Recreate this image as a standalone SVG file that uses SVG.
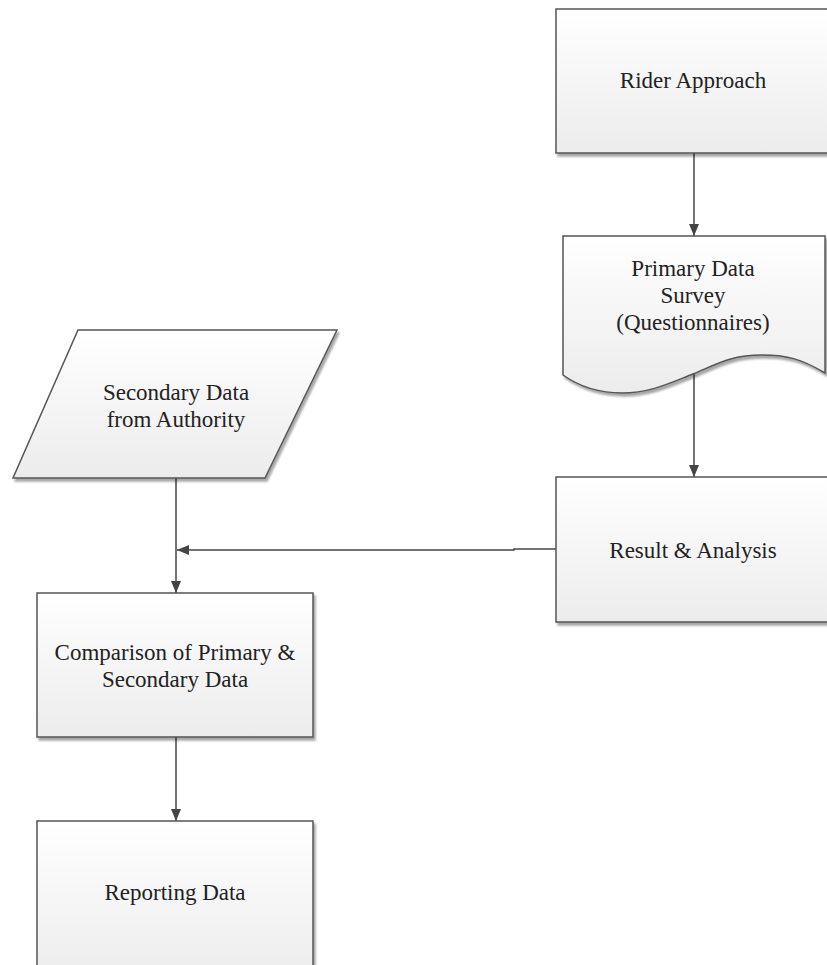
<svg xmlns="http://www.w3.org/2000/svg" width="827" height="965" viewBox="0 0 827 965">
<defs>
<linearGradient id="g" x1="0" y1="0" x2="0" y2="1">
<stop offset="0" stop-color="#ffffff"/>
<stop offset="1" stop-color="#ececec"/>
</linearGradient>
<filter id="sh" x="-5%" y="-5%" width="115%" height="115%">
<feGaussianBlur in="SourceAlpha" stdDeviation="1.2"/>
<feOffset dx="2" dy="2.5" result="b"/>
<feComponentTransfer><feFuncA type="linear" slope="0.35"/></feComponentTransfer>
<feMerge><feMergeNode/><feMergeNode in="SourceGraphic"/></feMerge>
</filter>
<marker id="ah" markerWidth="12" markerHeight="12" viewBox="0 0 12 12" refX="12" refY="6" orient="auto" markerUnits="userSpaceOnUse">
<path d="M0,1 L12,6 L0,11 Z" fill="#444"/>
</marker>
</defs>
<style>
.shape{fill:url(#g);stroke:#555;stroke-width:1.5;filter:url(#sh)}
.lbl{font-family:"Liberation Serif","Times New Roman",serif;font-size:23px;fill:#222;text-anchor:middle}
.con{fill:none;stroke:#444;stroke-width:1.5;marker-end:url(#ah)}
</style>
<rect width="827" height="965" fill="#fff"/>
<g id="connectors">
<path class="con" d="M694,153 V236"/>
<path class="con" d="M694,374 V477"/>
<path class="con" d="M556,549 H514 V550 H177"/>
<path class="con" d="M176,478 V593"/>
<path class="con" d="M176,737 V821"/>
</g>
<g id="rider">
<rect class="shape" x="556" y="9" width="290" height="144"/>
<text class="lbl" x="693" y="88">Rider Approach</text>
</g>
<g id="primary">
<path class="shape" d="M563,236 H825 V373 C800,358 785,355 762,355 C730,355 715,365 693,374 C670,383 650,393 622,393 C600,393 580,387 563,375 Z"/>
<text class="lbl" x="693" y="276">Primary Data</text>
<text class="lbl" x="693" y="303">Survey</text>
<text class="lbl" x="693" y="330">(Questionnaires)</text>
</g>
<g id="secondary">
<path class="shape" d="M78,330 H337 L265,478 H13 Z"/>
<text class="lbl" x="176" y="400">Secondary Data</text>
<text class="lbl" x="176" y="427">from Authority</text>
</g>
<g id="result">
<rect class="shape" x="556" y="477" width="290" height="145"/>
<text class="lbl" x="693" y="558">Result &amp; Analysis</text>
</g>
<g id="comparison">
<rect class="shape" x="37" y="593" width="276" height="144"/>
<text class="lbl" x="175" y="660">Comparison of Primary &amp;</text>
<text class="lbl" x="175" y="687">Secondary Data</text>
</g>
<g id="reporting">
<rect class="shape" x="37" y="821" width="276" height="160"/>
<text class="lbl" x="175" y="900">Reporting Data</text>
</g>
</svg>
